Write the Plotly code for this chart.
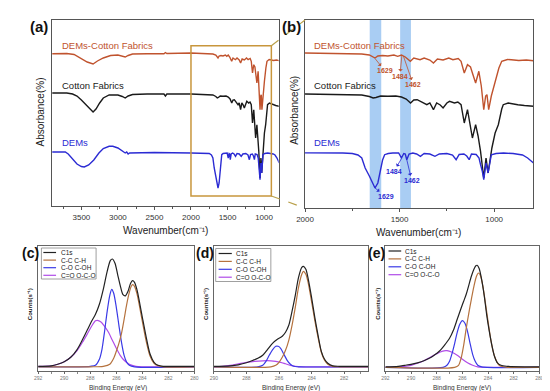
import plotly.graph_objects as go

W, H = 550, 391
FONT = "Arial, 'Liberation Sans', sans-serif"

# ---------------- FTIR data (arbitrary offset absorbance units) ----------------
wn_demcot = [3900, 3700, 3600, 3560, 3500, 3420, 3340, 3280, 3200, 3100,
             3000, 2950, 2900, 2860, 2800, 2600, 2370, 2350, 2330, 2000,
             1800, 1700, 1660, 1640, 1630, 1615, 1590, 1562, 1530, 1510,
             1490, 1470, 1443, 1425, 1410, 1392, 1370, 1340, 1321, 1300,
             1270, 1240, 1218, 1190, 1175, 1158, 1141, 1125, 1115, 1098,
             1081, 1068, 1055, 1045, 1038, 1029, 1015, 995, 975, 960,
             930, 909, 870, 830, 792]
ab_demcot = [154.3, 154.5, 153.5, 152, 149, 146, 144, 147, 150, 152.5,
             153, 152, 151, 152.5, 154, 154.3, 154.3, 155.5, 154.5, 155,
             154.5, 154, 153, 150.5, 150, 152, 152.5, 152, 153, 151.7,
             153, 151, 146.7, 150, 149, 148.3, 150, 148, 145, 149,
             148, 150, 148.3, 149.5, 146.7, 135, 143.3, 141, 135, 125,
             136.7, 122, 98.3, 112, 113.3, 98.3, 112, 126.7, 140, 146.7,
             148.5, 148.3, 147.5, 148, 147.3]

wn_cotton = [3900, 3700, 3620, 3560, 3500, 3440, 3380, 3340, 3300, 3250, 3200,
             3120, 3000, 2940, 2900, 2860, 2800, 2600, 2370, 2350, 2330,
             2000, 1800, 1700, 1660, 1640, 1625, 1600, 1562, 1520, 1490,
             1465, 1442, 1425, 1407, 1380, 1356, 1340, 1321, 1304, 1285,
             1270, 1250, 1236, 1210, 1192, 1175, 1158, 1141, 1115, 1098,
             1085, 1072, 1055, 1043, 1032, 1012, 995, 978, 960, 952,
             926, 900, 875, 840, 792]
ab_cotton = [115, 115, 114, 112, 108, 103, 99, 96, 99, 105, 110,
             113, 113, 111.5, 110, 112, 113.5, 114, 114, 112, 114,
             114, 113.5, 113, 111.5, 110, 110.5, 112, 111.7, 112, 111,
             109, 105, 108, 108.3, 106, 103.3, 105, 98.3, 105, 103,
             100, 105, 106.7, 105, 106, 103.3, 85, 98.3, 70, 83.3,
             72, 56.7, 30, 50, 35, 60, 75, 83.3, 99, 103.3,
             105, 104, 103.3, 102.5, 101.7]

wn_dems = [3900, 3720, 3680, 3620, 3560, 3500, 3460, 3400, 3330, 3260,
           3200, 3120, 3070, 3000, 2950, 2920, 2900, 2880, 2860, 2840,
           2700, 2500, 2000, 1800, 1750, 1720, 1700, 1682, 1660, 1640,
           1630, 1615, 1605, 1590, 1579, 1560, 1536, 1505, 1490, 1478,
           1470, 1462, 1450, 1430, 1410, 1390, 1370, 1340, 1313, 1290,
           1250, 1220, 1201, 1185, 1160, 1145, 1132, 1120, 1095, 1080,
           1072, 1063, 1055, 1043, 1032, 1015, 990, 950, 900, 875,
           850, 823, 792]
ab_dems = [56, 56, 54, 49, 44, 41.5, 41, 43, 48, 55,
           59.5, 61.7, 61.7, 60, 57.5, 56, 55, 56, 54, 55,
           55.5, 55.5, 55, 55, 54.5, 53, 50, 40, 32, 23,
           20, 25, 33.3, 48, 53.3, 54.5, 55, 55, 50, 54.5,
           54, 48.3, 54, 55, 54, 51.7, 54.5, 54, 51.7, 54,
           54.5, 53, 48.3, 53.5, 54, 52, 48.3, 54, 53.5, 50,
           43.3, 37, 28.3, 45, 35, 53.3, 54.5, 55, 54.5, 54,
           53, 50, 45]

ftir_names = ["DEMs-Cotton Fabrics", "Cotton Fabrics", "DEMs"]
ftir_colors = ["#c0532e", "#1a1a1a", "#2b2bd3"]

# highlighted bands in (b) (cm-1)
band_lo = [1597, 1440]
band_hi = [1658, 1497]

# ---------------- XPS data (arbitrary counts) ----------------
xps_names = ["C1s", "C-C C-H", "C-O C-OH", "C=O O-C-O"]
xps_colors = ["#222222", "#b5723e", "#3a3ae6", "#b04ce8"]

c_be_c1s = [292, 291, 290.5, 290, 289.5, 289, 288.6, 288.2, 287.9, 287.6,
            287.3, 287.0, 286.7, 286.45, 286.3, 286.1, 285.9, 285.7, 285.5, 285.3,
            285.1, 284.9, 284.75, 284.6, 284.4, 284.2, 284.0, 283.7, 283.4, 283.1,
            282.8, 282.4, 282, 280]
c_c1s = [5, 5.5, 7, 9.5, 14, 22, 31.5, 42, 50, 57,
         67, 82, 100, 111, 112.3, 108, 97, 86, 77, 75.5,
         80, 88, 90.6, 89, 81, 68, 54, 34, 17, 9,
         6, 5, 5, 5]
c_be_cc = [292, 288, 287, 286.5, 286.2, 286.0, 285.8, 285.6, 285.4, 285.2,
           285.0, 284.85, 284.75, 284.6, 284.4, 284.2, 284.0, 283.7, 283.4, 283.1,
           282.8, 282.4, 280]
c_cc = [4.5, 4.5, 5, 7, 13, 20, 28, 38, 52, 67,
        79, 85, 86.6, 85, 77, 64, 50, 30, 15, 8,
        5.5, 4.5, 4.5]
c_be_co = [292, 288, 287.6, 287.3, 287.1, 286.9, 286.7, 286.5, 286.35, 286.2,
           286.0, 285.8, 285.6, 285.4, 285.2, 285.0, 284.6, 280]
c_co = [4.5, 5, 6, 12, 22, 40, 60, 76, 82, 78,
        64, 46, 29, 16, 9, 6, 4.5, 4.5]
c_be_oco = [292, 291, 290.5, 290, 289.5, 289, 288.6, 288.2, 287.9, 287.6,
            287.45, 287.2, 286.9, 286.6, 286.3, 286.0, 285.7, 285.4, 285.0, 284.5,
            284, 280]
c_oco = [5, 5.5, 7, 9.5, 14, 21, 29, 38, 45, 50.5,
         51, 49.5, 45, 39, 31, 23, 16, 11, 7, 5,
         4.5, 4.5]

d_be_c1s = [290, 289, 288.5, 288, 287.6, 287.3, 287.0, 286.7, 286.4, 286.1,
            285.8, 285.6, 285.4, 285.2, 285.0, 284.8, 284.6, 284.5, 284.35, 284.2,
            284.0, 283.8, 283.6, 283.4, 283.2, 283.0, 282.7, 282.3, 280.5]
d_c1s = [5, 5.5, 6.5, 8.5, 11, 13, 16, 22, 28, 32,
         35, 39, 46, 60, 76, 94, 104, 105, 102, 92,
         74, 54, 36, 20, 12, 8, 5.5, 5, 5]
d_be_cc = [290, 286.5, 286.2, 286.0, 285.8, 285.6, 285.4, 285.2, 285.0, 284.8,
           284.6, 284.5, 284.35, 284.2, 284.0, 283.8, 283.6, 283.4, 283.2, 283.0,
           282.7, 282.3, 280.5]
d_cc = [4.5, 4.5, 6, 9, 14, 21, 31, 46, 64, 84,
        97, 100, 97, 88, 70, 51, 34, 19, 11, 7,
        5, 4.5, 4.5]
d_be_co = [290, 287.3, 287.0, 286.8, 286.6, 286.4, 286.2, 286.05, 285.9, 285.7,
           285.5, 285.3, 285.1, 284.8, 280.5]
d_co = [4.5, 4.5, 6, 10, 16, 21.5, 25, 25, 23, 17,
        11, 7, 5, 4.5, 4.5]
d_be_oco = [290, 289.5, 289, 288.5, 288, 287.5, 287, 286.5, 286.2, 285.9,
            285.6, 285.3, 285, 284.5, 280.5]
d_oco = [4.5, 5, 6, 7.5, 9, 10, 10.5, 10.5, 10, 9,
         7.5, 6, 5, 4.5, 4.5]

e_be_c1s = [292, 291, 290.5, 290, 289.5, 289, 288.5, 288.2, 287.8, 287.4,
            287.0, 286.7, 286.4, 286.1, 285.9, 285.7, 285.5, 285.3, 285.1, 284.95,
            284.85, 284.7, 284.5, 284.3, 284.1, 283.9, 283.7, 283.5, 283.3, 283.0,
            282.5, 281, 280]
e_c1s = [4.5, 5, 6, 7, 8.5, 10.5, 13.5, 16, 20, 26,
         33, 41, 52, 63, 70, 77, 86, 95, 102, 105.5,
         106, 103, 92, 76, 56, 40, 26, 15, 9, 6,
         5, 4.5, 4.5]
e_be_cc = [292, 286.6, 286.3, 286.1, 285.9, 285.7, 285.5, 285.3, 285.1, 284.9,
           284.75, 284.6, 284.4, 284.2, 284.0, 283.8, 283.6, 283.4, 283.2, 283.0,
           282.5, 280]
e_cc = [4, 4, 6, 13, 26, 43, 58, 72, 85, 95,
        98.3, 96, 85, 68, 50, 33, 20, 12, 7, 5,
        4, 4]
e_be_co = [292, 287.5, 287.2, 287.0, 286.8, 286.6, 286.4, 286.2, 286.0, 285.8,
           285.6, 285.4, 285.2, 285.0, 284.8, 284.5, 280]
e_co = [4, 4, 6, 10, 18, 28, 39, 47, 50.6, 48,
        40, 28, 17, 10, 6, 4.5, 4]
e_be_oco = [292, 290.5, 290, 289.5, 289, 288.5, 288, 287.6, 287.2, 286.8,
            286.4, 286.0, 285.6, 285.2, 284.8, 284, 280]
e_oco = [4, 5, 6, 8, 10.5, 14, 17.5, 20, 20.6, 19,
         16, 12, 8.5, 6, 4.5, 4, 4]


def px(x):
    return x / W


def py(y):
    return 1 - y / H


fig = go.Figure()

# FTIR traces in (a) and (b)
ftir = [(wn_demcot, ab_demcot), (wn_cotton, ab_cotton), (wn_dems, ab_dems)]
for xa, ya in (("x", "y"), ("x2", "y2")):
    for (wx, wy), name, col in zip(ftir, ftir_names, ftir_colors):
        fig.add_trace(go.Scatter(x=wx, y=wy, mode="lines", name=name, xaxis=xa, yaxis=ya,
                                 line=dict(color=col, width=1.4), showlegend=False,
                                 hoverinfo="skip"))

# XPS traces
xps_sets = [
    ("x3", "y3", [(c_be_c1s, c_c1s), (c_be_cc, c_cc), (c_be_co, c_co), (c_be_oco, c_oco)]),
    ("x4", "y4", [(d_be_c1s, d_c1s), (d_be_cc, d_cc), (d_be_co, d_co), (d_be_oco, d_oco)]),
    ("x5", "y5", [(e_be_c1s, e_c1s), (e_be_cc, e_cc), (e_be_co, e_co), (e_be_oco, e_oco)]),
]
for xa, ya, curves in xps_sets:
    for i in [3, 2, 1, 0]:
        bx, by = curves[i]
        fig.add_trace(go.Scatter(x=bx, y=by, mode="lines", name=xps_names[i], xaxis=xa, yaxis=ya,
                                 line=dict(color=xps_colors[i], width=1.2, shape="spline", smoothing=0.8),
                                 showlegend=False, hoverinfo="skip"))

AX = "#555555"


def ftir_x(dom, rng):
    return dict(domain=dom, range=rng, showline=True, mirror=True, linecolor=AX, linewidth=1,
                ticks="outside", ticklen=3, tickcolor=AX, tickwidth=1, dtick=500, tick0=0,
                tickfont=dict(size=8, color="#333", family=FONT), showgrid=False, zeroline=False,
                minor=dict(ticks="outside", ticklen=2, dtick=250, tick0=0, tickcolor=AX))


def xps_x(dom, rng):
    return dict(domain=dom, range=rng, showline=True, mirror=True, linecolor="#666", linewidth=1,
                ticks="outside", ticklen=2, tickcolor="#666", dtick=2, tick0=0,
                tickfont=dict(size=5, color="#777", family=FONT), showgrid=False, zeroline=False,
                minor=dict(ticks="outside", ticklen=1.5, dtick=1, tick0=0, tickcolor="#888"))


def yax(dom, rng, anchor, col=AX):
    return dict(domain=dom, range=rng, anchor=anchor, showline=True, mirror=True, linecolor=col,
                linewidth=1, ticks="", showticklabels=False, showgrid=False, zeroline=False)


fig.update_layout(
    width=W, height=H, margin=dict(l=0, r=0, t=0, b=0),
    paper_bgcolor="white", plot_bgcolor="white", showlegend=False,
    font=dict(family=FONT),
    xaxis=dict(ftir_x([px(36), px(268)], [3900, 800]), anchor="y"),
    yaxis=yax([py(198), py(12)], [2, 188], "x"),
    xaxis2=dict(ftir_x([px(295), px(529)], [2000, 792]), anchor="y2"),
    yaxis2=yax([py(200), py(12)], [0, 188], "x2"),
    xaxis3=dict(xps_x([px(21.7), px(181.7)], [292, 280]), anchor="y3"),
    yaxis3=yax([py(363.3), py(238.3)], [0, 125], "x3", "#666"),
    xaxis4=dict(xps_x([px(201.7), px(360)], [290, 280.5]), anchor="y4"),
    yaxis4=yax([py(363.3), py(238.3)], [0, 125], "x4", "#666"),
    xaxis5=dict(xps_x([px(377.3), px(535)], [292, 280]), anchor="y5"),
    yaxis5=yax([py(363.3), py(238.3)], [0, 125], "x5", "#666"),
)

shapes = []
# blue bands in (b)
for lo, hi in zip(band_lo, band_hi):
    shapes.append(dict(type="rect", xref="x2", yref="y2 domain", x0=hi, x1=lo, y0=0, y1=1,
                       fillcolor="#a9cdf3", line=dict(width=0), layer="below"))
# zoom box in (a)
shapes.append(dict(type="rect", xref="x", yref="y", x0=2000, x1=900, y0=12, y1=162.3,
                   line=dict(color="#c8963c", width=1.5), fillcolor="rgba(0,0,0,0)"))
# dashed connectors
for (x0, y0, x1, y1) in [(260.5, 37.7, 295, 12), (260.5, 188, 295, 200)]:
    shapes.append(dict(type="line", xref="paper", yref="paper", x0=px(x0), y0=py(y0),
                       x1=px(x1), y1=py(y1), line=dict(color="#b9a04a", width=1.2, dash="dash")))

ann = []


def text(x, y, s, size, color="#111", bold=False, anchor="center", angle=0):
    ann.append(dict(x=px(x), y=py(y), xref="paper", yref="paper", text=("<b>%s</b>" % s) if bold else s,
                    showarrow=False, xanchor=anchor, yanchor="middle", textangle=angle,
                    font=dict(size=size, color=color, family=FONT)))


# panel letters
text(23, 18, "(a)", 15, "#111", True)
text(281, 18, "(b)", 15, "#111", True)
text(14, 245, "(c)", 14, "#111", True)
text(193, 245, "(d)", 14, "#111", True)
text(368, 245, "(e)", 14, "#111", True)

# FTIR titles
text(24, 104, "Absorbance(%)", 10, "#222", angle=-90)
text(283.5, 102, "Absorbance(%)", 10, "#222", angle=-90)
text(152, 222, "Wavenumber(cm\u207b\u00b9)", 10, "#222")
text(411, 224, "Wavenumber(cm\u207b\u00b9)", 10, "#222")

# series labels
for (xa, ys) in [(44, [37.5, 77.5, 134]), (302, [37.5, 77.5, 134.5])]:
    for name, col, yy in zip(ftir_names, ftir_colors, ys):
        text(xa, yy, name, 9.5, col, anchor="left")

# peak annotations in (b)
peak_wn = [1630, 1488, 1480, 1488, 1462, 1630]
peak_val = [149.5, 152.5, 152, 50, 48.3, 20]
peak_txt = ["1629", "1484", "1462", "1484", "1462", "1629"]
peak_col = [ftir_colors[0]] * 3 + [ftir_colors[2]] * 3
peak_dx = [10, -2, 10, -8, 5, 11]
peak_dy = [12.5, 21, 29, 13.5, 21, 8.5]
for wv, vv, tt, cc, dx, dy in zip(peak_wn, peak_val, peak_txt, peak_col, peak_dx, peak_dy):
    ann.append(dict(x=wv, y=vv, xref="x2", yref="y2", text="<b>%s</b>" % tt, showarrow=True,
                    ax=dx, ay=dy, axref="pixel", ayref="pixel", arrowhead=2, arrowsize=0.6,
                    arrowwidth=0.8, arrowcolor=cc, arrowside="start", standoff=0, startstandoff=0,
                    font=dict(size=7, color=cc, family=FONT)))

# XPS titles
for cx, ycx in [(103, 13.5), (281, 193.5), (456, 369.5)]:
    text(cx, 380, "Binding Energy (eV)", 6.5, "#333")
    text(ycx, 296, "Counts(s\u207b\u00b9)", 6, "#222", bold=True, angle=-90)

# manual legends in XPS panels
legends = [(27, 40, 43, 244.5, 7.6, (25, 240, 81, 271)),
           (206.5, 220, 222, 245.5, 7.9, (203.5, 240.5, 260, 273.5)),
           (380.5, 393.5, 395.5, 243, 7.9, None)]
for lx0, lx1, tx, y0, dy, box in legends:
    if box:
        shapes.append(dict(type="rect", xref="paper", yref="paper", x0=px(box[0]), y0=py(box[1]),
                           x1=px(box[2]), y1=py(box[3]), line=dict(color="#888", width=0.8)))
    for i, (nm, cl) in enumerate(zip(xps_names, xps_colors)):
        yy = y0 + i * dy
        shapes.append(dict(type="line", xref="paper", yref="paper", x0=px(lx0), x1=px(lx1),
                           y0=py(yy), y1=py(yy), line=dict(color=cl, width=1.2)))
        text(tx, yy, nm, 6.5, "#222", anchor="left")

fig.update_layout(shapes=shapes, annotations=ann)
fig.write_html("out.html")
